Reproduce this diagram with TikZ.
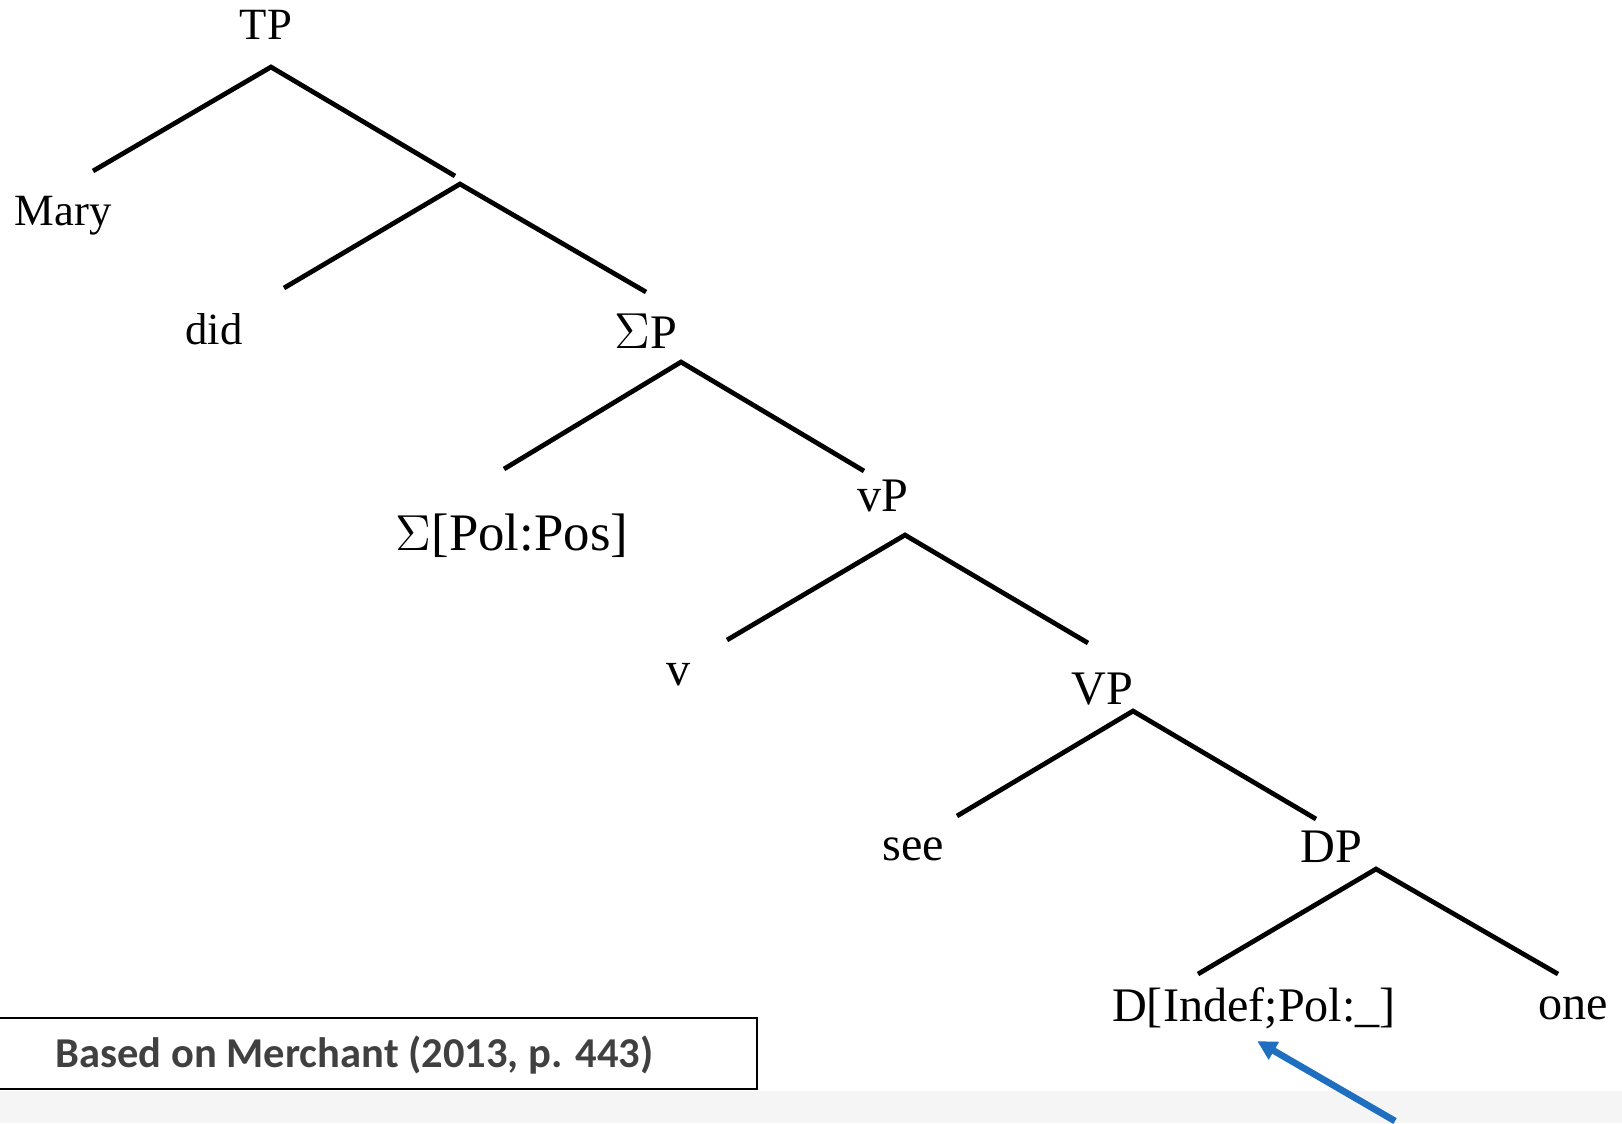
\documentclass[tikz,border=0pt]{standalone}
\usepackage{fontspec}
\setmainfont{Liberation Serif}
\newfontfamily\notefont{Carlito}
\usetikzlibrary{arrows.meta}
\definecolor{notegray}{HTML}{404040}
\definecolor{pointblue}{HTML}{1F6FC0}
\definecolor{bandgray}{HTML}{F5F5F5}

\begin{document}
\begin{tikzpicture}[x=0.01cm, y=-0.01cm,
    cat/.style={anchor=base, inner sep=0pt, font=\fontsize{13.7}{16}\selectfont},
    small cat/.style={cat, font=\fontsize{12.7}{15}\selectfont},
    big cat/.style={cat, font=\fontsize{15}{18}\selectfont},
    branch/.style={line width=1.35pt},
    pointer/.style={draw=pointblue, line width=1.9pt,
                    -{Triangle[length=5.5pt, width=5.5pt]}}]
  \useasboundingbox (0,0) rectangle (1622,1123);
  \fill[bandgray] (0,1091) rectangle (1622,1123);

  % TP: Mary + unlabelled T' node
  \node[small cat] (tp) at (266,39) {TP};
  \coordinate (tp-top) at (271,67);
  \node[small cat] (mary) at (63,225) {Mary};
  \coordinate (mary-end) at (93,171);
  \coordinate (tbar-end) at (455,176);
  \draw[branch] (mary-end) -- (tp-top) -- (tbar-end);

  % T': did + SigmaP
  \coordinate (tbar-top) at (460,184);
  \node[small cat] (did) at (214,344) {did};
  \coordinate (did-end) at (284,288);
  \node[cat] (sigp) at (646,348) {$\Sigma$P};
  \coordinate (sigp-end) at (646,292);
  \draw[branch] (did-end) -- (tbar-top) -- (sigp-end);

  % SigmaP: Sigma head + vP
  \coordinate (sigp-top) at (681,362);
  \node[big cat] (sighead) at (512,550) {$\Sigma$[Pol:Pos]};
  \coordinate (sighead-end) at (504,469);
  \node[cat] (littlevp) at (883,511) {vP};
  \coordinate (littlevp-end) at (864,471);
  \draw[branch] (sighead-end) -- (sigp-top) -- (littlevp-end);

  % vP: v + VP
  \coordinate (littlevp-top) at (905,535);
  \node[cat] (littlev) at (679,685) {v};
  \coordinate (littlev-end) at (727,640);
  \node[cat] (vp) at (1102,704) {VP};
  \coordinate (vp-end) at (1088,643);
  \draw[branch] (littlev-end) -- (littlevp-top) -- (vp-end);

  % VP: see + DP
  \coordinate (vp-top) at (1133,711);
  \node[cat] (see) at (913,860) {see};
  \coordinate (see-end) at (957,816);
  \node[cat] (dp) at (1331,862) {DP};
  \coordinate (dp-end) at (1316,819);
  \draw[branch] (see-end) -- (vp-top) -- (dp-end);

  % DP: D head + one
  \coordinate (dp-top) at (1376,869);
  \node[cat] (dhead) at (1254,1021) {D[Indef;Pol:\_]};
  \coordinate (dhead-end) at (1198,974);
  \node[cat] (one) at (1573,1019) {one};
  \coordinate (one-end) at (1558,974);
  \draw[branch] (dhead-end) -- (dp-top) -- (one-end);

  % source note
  \draw[line width=0.7pt] (-2,1018) rectangle (757,1089);
  \node[anchor=west, inner sep=0pt, text=notegray,
        font=\notefont\bfseries\fontsize{12.1}{14}\selectfont]
    (source) at (55,1055) {Based on Merchant (2013, p. 443)};

  % arrow up to the D head
  \coordinate (pointer-tail) at (1395,1121);
  \draw[pointer] (pointer-tail) -- ([xshift=0.9pt, yshift=-3.4pt]dhead.south);
\end{tikzpicture}
\end{document}
